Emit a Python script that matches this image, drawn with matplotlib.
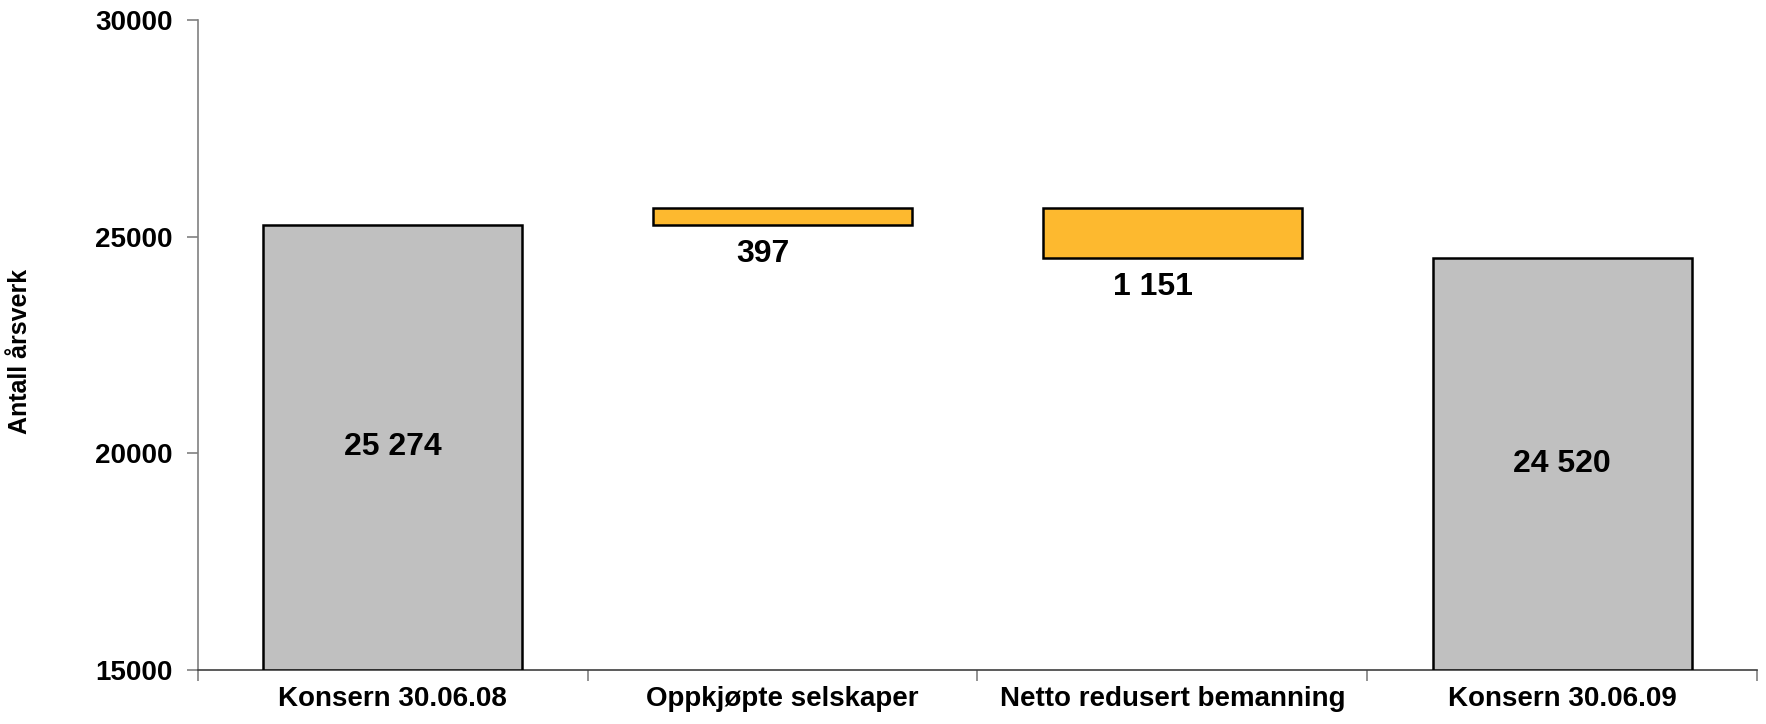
import numpy as np
import matplotlib.pyplot as plt

plt.rcParams['font.family'] = ['Liberation Sans', 'DejaVu Sans']
plt.rcParams['font.weight'] = 'bold'

categories = ['Konsern 30.06.08', 'Oppkjøpte selskaper', 'Netto redusert bemanning', 'Konsern 30.06.09']
start_value = 25274
changes = [397, -1151]
end_value = 24520
labels = ['25 274', '397', '1 151', '24 520']

# waterfall bottoms/heights
bottoms = [15000]
heights = [start_value - 15000]
level = start_value
for c in changes:
    if c >= 0:
        bottoms.append(level)
        heights.append(c)
    else:
        bottoms.append(level + c)
        heights.append(-c)
    level += c
bottoms.append(15000)
heights.append(end_value - 15000)
colors = ['#c0c0c0', '#fdb92f', '#fdb92f', '#c0c0c0']

fig = plt.figure(figsize=(17.66, 7.24), dpi=100)
ax = fig.add_axes([0.112, 0.075, 0.883, 0.897])
x = np.arange(len(categories))
ax.bar(x, heights, bottom=bottoms, width=0.665, color=colors, edgecolor='black', linewidth=1.8, zorder=3)

ax.set_ylim(15000, 30000)
ax.set_xlim(-0.5, 3.5)
ax.set_yticks([15000, 20000, 25000, 30000])
ax.set_xticks(x)
ax.set_xticklabels(categories, fontsize=20, fontweight='bold')
ax.set_xticks(np.arange(-0.5, 4.0, 1.0), minor=True)
ax.tick_params(axis='x', which='major', length=0, pad=12)
ax.tick_params(axis='x', which='minor', length=8, color='#808080', width=1.2)
ax.tick_params(axis='y', length=8, color='#808080', width=1.2, labelsize=20, pad=10)
for t in ax.get_yticklabels():
    t.set_fontweight('bold')

for s in ['top', 'right']:
    ax.spines[s].set_visible(False)
ax.spines['left'].set_color('#808080')
ax.spines['left'].set_linewidth(1.2)
ax.spines['bottom'].set_color('#404040')
ax.spines['bottom'].set_linewidth(1.2)

ax.set_ylabel('Antall årsverk', fontsize=18, fontweight='bold')
ax.yaxis.set_label_coords(-0.106, 0.49)

# value labels
for i in [0, 3]:
    ax.text(x[i], bottoms[i] + heights[i] / 2, labels[i], ha='center', va='center', fontsize=23, fontweight='bold', zorder=4)
for i in [1, 2]:
    ax.annotate(labels[i], (x[i], bottoms[i]), xytext=(-14, -21), textcoords='offset points',
                ha='center', va='center', fontsize=23, fontweight='bold')

fig.savefig('out.png', dpi=100)
